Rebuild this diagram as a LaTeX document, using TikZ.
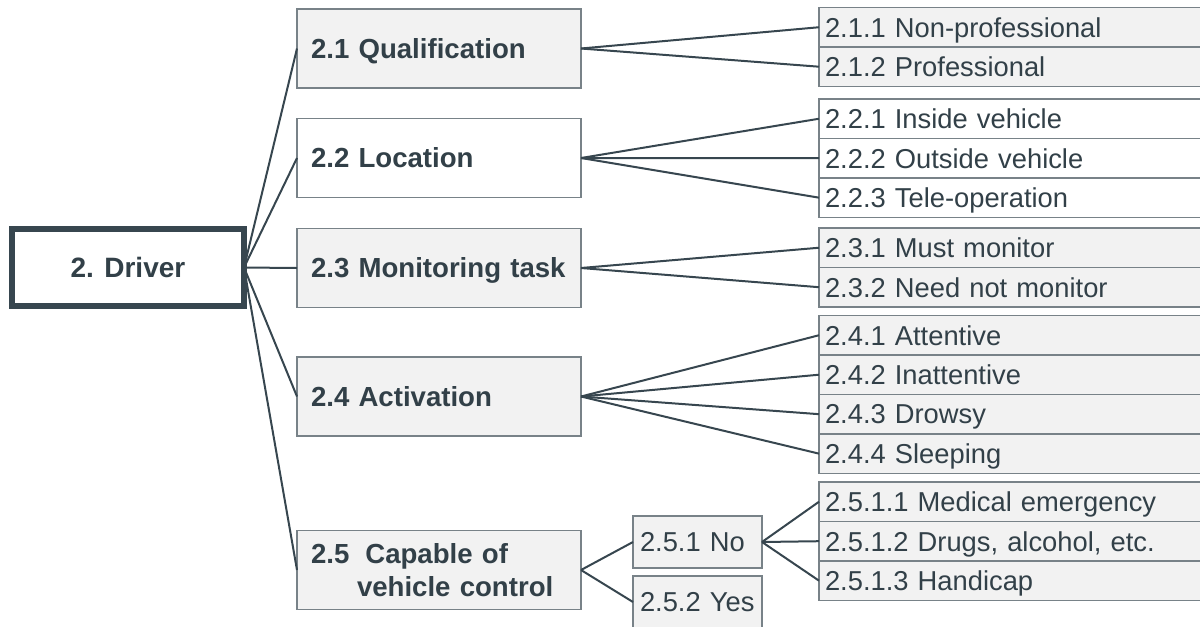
\documentclass[tikz,border=0pt]{standalone}
\usepackage{fontspec}
\setmainfont{Liberation Sans}
\usetikzlibrary{positioning}
\definecolor{drvtext}{RGB}{50,64,72}
\definecolor{drvline}{RGB}{55,70,79}
\definecolor{drvborder}{RGB}{120,130,136}
\definecolor{drvfill}{RGB}{242,242,242}

\begin{document}
\begin{tikzpicture}[x=0.75pt,y=-0.75pt,node distance=0pt,
    every node/.style={outer sep=0pt,text=drvtext},
    oneline/.style={text height=14.7pt,text depth=0pt},
    rootbox/.style={draw=drvline,line width=4.5pt,fill=white,minimum width=174pt,minimum height=57.75pt,oneline,font=\fontsize{21}{25}\selectfont\bfseries},
    catbox/.style={draw=drvborder,line width=0.9pt,fill=drvfill,minimum width=213pt,minimum height=59.25pt,text width=192pt,inner xsep=10.5pt,align=left,font=\fontsize{20.7}{24.75}\selectfont\bfseries},
    itembox/.style={draw=drvborder,line width=0.9pt,fill=drvfill,minimum width=292.5pt,minimum height=29.6pt,text width=283.5pt,inner xsep=4.5pt,align=left,oneline,font=\fontsize{20.5}{24}\selectfont},
    subbox/.style={draw=drvborder,line width=0.9pt,fill=drvfill,minimum width=96.75pt,minimum height=39pt,text width=86.25pt,inner xsep=5.25pt,align=left,oneline,font=\fontsize{20.5}{24}\selectfont},
    link/.style={draw=drvline,line width=1.5pt}]
  \clip (0,0) rectangle (1200,626);
  % root and categories
  \node[rootbox] (driver) at (128,267.5) {2. Driver};
  \node[catbox,oneline,anchor=west] (qual) at (297,48.5) {2.1 Qualification};
  \node[catbox,oneline,anchor=west,fill=white] (loc) at (297,158) {2.2 Location};
  \node[catbox,oneline,anchor=west] (mon) at (297,268) {2.3 Monitoring task};
  \node[catbox,oneline,anchor=west] (act) at (297,396.5) {2.4 Activation};
  \node[catbox,anchor=west] (cap) at (297,570) {2.5\hspace{12pt}Capable of\\\hspace{34.5pt}vehicle control};
  % items
  \node[itembox,anchor=north west] (nonpro) at (819,7.5) {2.1.1 Non-professional};
  \node[itembox,below=of nonpro] (pro) {2.1.2 Professional};
  \node[itembox,anchor=north west,fill=white] (inside) at (819,99) {2.2.1 Inside vehicle};
  \node[itembox,below=of inside,fill=white] (outside) {2.2.2 Outside vehicle};
  \node[itembox,below=of outside,fill=white] (tele) {2.2.3 Tele-operation};
  \node[itembox,anchor=north west] (must) at (819,228) {2.3.1 Must monitor};
  \node[itembox,below=of must] (neednot) {2.3.2 Need not monitor};
  \node[itembox,anchor=north west] (attent) at (819,315.5) {2.4.1 Attentive};
  \node[itembox,below=of attent] (inattent) {2.4.2 Inattentive};
  \node[itembox,below=of inattent] (drowsy) {2.4.3 Drowsy};
  \node[itembox,below=of drowsy] (sleep) {2.4.4 Sleeping};
  \node[subbox,anchor=north west] (no) at (633,516) {2.5.1 No};
  \node[subbox,anchor=north west] (yes) at (633,576) {2.5.2 Yes};
  \node[itembox,anchor=north west] (medical) at (819,482) {2.5.1.1 Medical emergency};
  \node[itembox,below=of medical] (drugs) {2.5.1.2 Drugs, alcohol, etc.};
  \node[itembox,below=of drugs] (handicap) {2.5.1.3 Handicap};
  % connectors
  \foreach \a/\b in {driver/qual,driver/loc,driver/mon,driver/act,driver/cap,
      qual/nonpro,qual/pro,loc/inside,loc/outside,loc/tele,mon/must,mon/neednot,
      act/attent,act/inattent,act/drowsy,act/sleep,cap/no,cap/yes,
      no/medical,no/drugs,no/handicap}
    \draw[link] (\a.east) -- (\b.west);
\end{tikzpicture}
\end{document}
